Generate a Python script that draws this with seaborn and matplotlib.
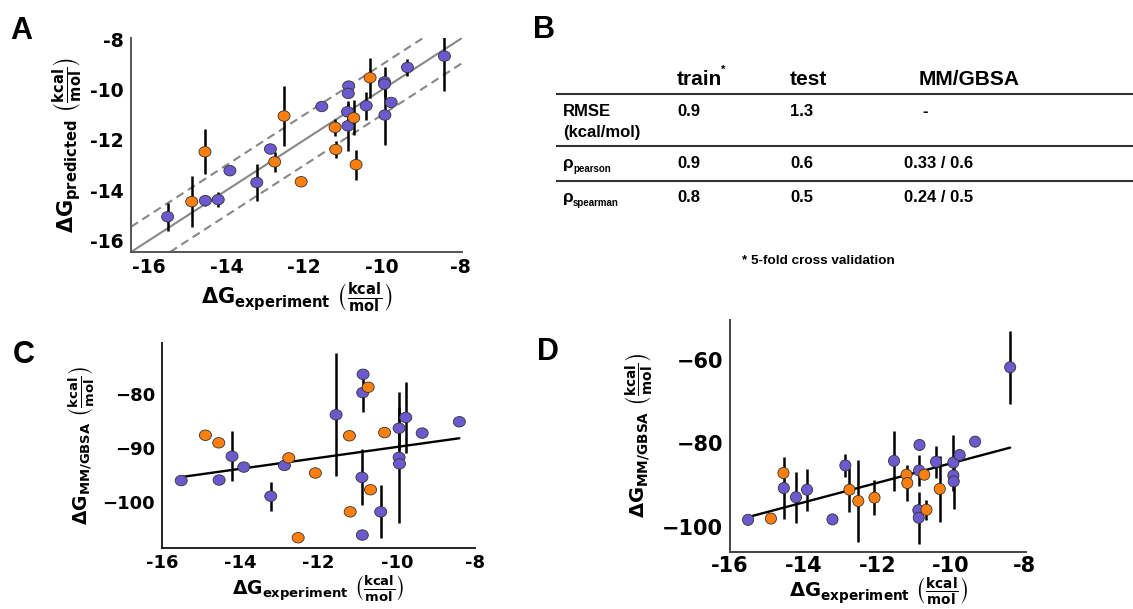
import numpy as np
import pandas as pd
import seaborn as sns
import matplotlib.pyplot as plt
from matplotlib.path import Path

# Experimental binding free energies (kcal/mol), training and test compounds
exp_train = [-15.51, -14.54, -14.21, -13.91, -13.22, -12.87, -11.55, -10.86, -10.87,
             -10.89, -10.88, -10.41, -9.94, -9.94, -9.93, -9.77, -9.35, -8.40]
exp_test = [-14.89, -14.55, -12.76, -12.52, -12.08, -11.21, -11.19, -10.73, -10.67, -10.31]

# Panel A: model predictions and their spread
pred_train = [-15.05, -14.41, -14.37, -13.22, -13.69, -12.36, -10.67, -9.86, -10.15,
              -10.88, -11.44, -10.64, -9.69, -9.78, -11.01, -10.51, -9.12, -8.67]
pred_train_err = [0.55, 0.2, 0.3, 0.0, 0.75, 0.15, 0.0, 0.0, 0.0,
                  0.3, 1.0, 0.55, 0.6, 0.0, 1.2, 0.0, 0.35, 1.4]
pred_test = [-14.45, -12.47, -12.87, -11.05, -13.66, -11.50, -12.38, -11.12, -12.98, -9.53]
pred_test_err = [1.0, 0.9, 0.4, 1.2, 0.0, 0.35, 0.35, 0.7, 0.6, 0.8]

# Panel C: MM/GBSA, first protocol
gbsa1_train = [-96.1, -96.0, -91.6, -93.6, -99.0, -93.3, -83.9, -76.4, -79.8,
               -95.5, -106.2, -101.9, -86.4, -91.8, -93.0, -84.4, -87.3, -85.2]
gbsa1_train_err = [0.0, 0.0, 4.6, 0.0, 2.7, 0.0, 11.4, 0.0, 3.5,
                   5.2, 0.0, 4.9, 4.0, 12.2, 0.0, 6.5, 0.0, 0.0]
gbsa1_test = [-87.7, -89.1, -91.9, -106.7, -94.7, -87.8, -101.9, -78.8, -97.8, -87.2]
gbsa1_test_err = [0.0] * 10

# Panel D: MM/GBSA, second protocol
gbsa2_train = [-98.3, -90.7, -92.9, -91.1, -98.2, -85.3, -84.2, -80.4, -86.5,
               -96.0, -97.8, -84.4, -84.6, -87.7, -89.1, -82.8, -79.6, -61.8]
gbsa2_train_err = [0.0, 7.5, 6.1, 5.0, 0.0, 2.8, 7.1, 0.0, 3.6,
                   0.0, 6.2, 3.8, 6.7, 0.0, 6.5, 0.0, 0.0, 8.7]
gbsa2_test = [-98.0, -87.1, -91.1, -93.8, -93.0, -87.5, -89.5, -87.5, -95.9, -90.9]
gbsa2_test_err = [0.0, 0.0, 5.3, 9.7, 4.2, 0.0, 4.2, 0.0, 2.4, 7.9]

# Panel B: summary table
table_cols = ["train", "test", "MM/GBSA"]
rmse_vals = ["0.9", "1.3", "-"]
pearson_vals = ["0.9", "0.6", "0.33 / 0.6"]
spearman_vals = ["0.8", "0.5", "0.24 / 0.5"]

a_ticks = [-16, -14, -12, -10, -8]
c_yticks = [-100, -90, -80]
d_yticks = [-100, -80, -60]

df = pd.DataFrame({
    "exp": exp_train + exp_test,
    "set": ["train"] * len(exp_train) + ["test"] * len(exp_test),
    "pred": pred_train + pred_test,
    "pred_err": pred_train_err + pred_test_err,
    "gbsa1": gbsa1_train + gbsa1_test,
    "gbsa1_err": gbsa1_train_err + gbsa1_test_err,
    "gbsa2": gbsa2_train + gbsa2_test,
    "gbsa2_err": gbsa2_train_err + gbsa2_test_err,
})

sns.set_style("white")
plt.rcParams["font.family"] = ["DejaVu Sans"]
plt.rcParams["mathtext.fontset"] = "dejavusans"
plt.rcParams["mathtext.default"] = "bf"
plt.rcParams["axes.unicode_minus"] = False
for key in ["text.color", "axes.labelcolor", "xtick.color", "ytick.color"]:
    plt.rcParams[key] = "black"

palette = {"train": "#6a5acd", "test": "#ff7f0e"}

# slightly stretched marker, as in panels A and C
circle = Path.unit_circle()
ellipse = Path(circle.vertices * [1.15, 1.0], circle.codes)

W, H = 1133, 609
fig = plt.figure(figsize=(W / 100, H / 100), dpi=100)

# Background axes in pixel coordinates for the table and panel letters
ax_bg = fig.add_axes([0, 0, 1, 1])
ax_bg.set_xlim(0, W)
ax_bg.set_ylim(H, 0)
ax_bg.axis("off")

ax_a = fig.add_axes([131 / W, 1 - 252 / H, 331 / W, 214 / H])
ax_c = fig.add_axes([162 / W, 1 - 548 / H, 313 / W, 205 / H])
ax_d = fig.add_axes([730 / W, 1 - 552 / H, 296 / W, 232 / H])


def draw_points(ax, ycol, marker, size):
    bars = df[df[ycol + "_err"] > 0]
    ax.errorbar(bars["exp"], bars[ycol], yerr=bars[ycol + "_err"], fmt="none",
                ecolor="black", elinewidth=1.8, zorder=2)
    sns.scatterplot(data=df, x="exp", y=ycol, hue="set", palette=palette,
                    marker=marker, s=size, edgecolor="#333333", linewidth=0.6,
                    legend=False, ax=ax, zorder=3)


def style_axes(ax, tick_size, label_size, ylabel, spine_color, xpad, tpad):
    for side in ["top", "right"]:
        ax.spines[side].set_visible(False)
    for side in ["left", "bottom"]:
        ax.spines[side].set_color(spine_color)
        ax.spines[side].set_linewidth(1.4)
    ax.tick_params(axis="both", length=0, pad=5, labelsize=tick_size)
    ax.tick_params(axis="x", pad=tpad)
    for lab in ax.get_xticklabels() + ax.get_yticklabels():
        lab.set_fontweight("bold")
    ax.set_xlabel(r"ΔG$_{experiment}$ $\left(\frac{kcal}{mol}\right)$",
                  fontsize=label_size, fontweight="bold", labelpad=xpad)
    ax.set_ylabel(ylabel, fontsize=label_size, fontweight="bold", labelpad=4)


# Panel A
for off, ls in zip([-1, 0, 1], ["--", "-", "--"]):
    ax_a.axline((0, off), slope=1, color="#888888", lw=1.5,
                linestyle=ls if ls == "-" else (0, (4, 2.5)), zorder=1)
draw_points(ax_a, "pred", ellipse, 75)
ax_a.set_xlim(-16.45, -7.95)
ax_a.set_ylim(-16.45, -7.95)
ax_a.set_xticks(a_ticks)
ax_a.set_yticks(a_ticks)
style_axes(ax_a, 13.5, 15, r"ΔG$_{predicted}$ $\left(\frac{kcal}{mol}\right)$",
           "#555555", 3, 4)

# Panel C
draw_points(ax_c, "gbsa1", ellipse, 75)
sns.regplot(data=df, x="exp", y="gbsa1", scatter=False, ci=None, color="black",
            line_kws={"lw": 1.7, "zorder": 2.5}, ax=ax_c)
ax_c.set_xlim(-16.0, -8.0)
ax_c.set_ylim(-108.6, -70.6)
ax_c.set_xticks(a_ticks)
ax_c.set_yticks(c_yticks, ["\u2212" + str(abs(v)) for v in c_yticks])
style_axes(ax_c, 13, 13.5, r"ΔG$_{MM/GBSA}$ $\left(\frac{kcal}{mol}\right)$",
           "#222222", 1, 4)

# Panel D
draw_points(ax_d, "gbsa2", "o", 64)
sns.regplot(data=df, x="exp", y="gbsa2", scatter=False, ci=None, color="black",
            line_kws={"lw": 1.7, "zorder": 2.5}, ax=ax_d)
ax_d.set_xlim(-16.0, -7.97)
ax_d.set_ylim(-106, -50.5)
ax_d.set_xticks(a_ticks)
ax_d.set_yticks(d_yticks, ["\u2212" + str(abs(v)) for v in d_yticks])
style_axes(ax_d, 15, 14, r"ΔG$_{MM/GBSA}$ $\left(\frac{kcal}{mol}\right)$",
           "#444444", 0, 3)

# Panel letters
for letter, (px, py) in zip("ABCD", [(10, 16), (533, 15), (13, 340), (537, 337)]):
    ax_bg.text(px, py, letter, fontsize=22, fontweight="bold", family="Liberation Sans",
               ha="left", va="top")

# Panel B table
tfont = dict(family="Liberation Sans", fontweight="bold", va="baseline", ha="left")
col_x = [677, 790, 904]
for x, name in zip(col_x, table_cols):
    ax_bg.text(x + (15 if name == "MM/GBSA" else 0), 85, name, fontsize=15, **tfont)
ax_bg.text(721, 73, "*", fontsize=8, **tfont)
for y in [94, 146, 181]:
    ax_bg.plot([556, W], [y, y], color="#333333", lw=1.5, solid_capstyle="butt")

ax_bg.text(563, 116, "RMSE", fontsize=12, **tfont)
ax_bg.text(563, 137, "(kcal/mol)", fontsize=12, **tfont)
ax_bg.text(563, 168, "ρ", fontsize=12.5, **tfont)
ax_bg.text(573, 172, "pearson", fontsize=7, **tfont)
ax_bg.text(563, 202, "ρ", fontsize=12.5, **tfont)
ax_bg.text(573, 206, "spearman", fontsize=7, **tfont)
for row_y, vals in zip([116, 168, 202], [rmse_vals, pearson_vals, spearman_vals]):
    for x, v in zip(col_x, vals):
        ax_bg.text(x + (18 if v == "-" else 0), row_y, v, fontsize=12, **tfont)

ax_bg.text(818, 264, "* 5-fold cross validation", fontsize=9.7,
           family="Liberation Sans", fontweight="bold", ha="center", va="baseline")

fig.savefig("out.png", dpi=100)
